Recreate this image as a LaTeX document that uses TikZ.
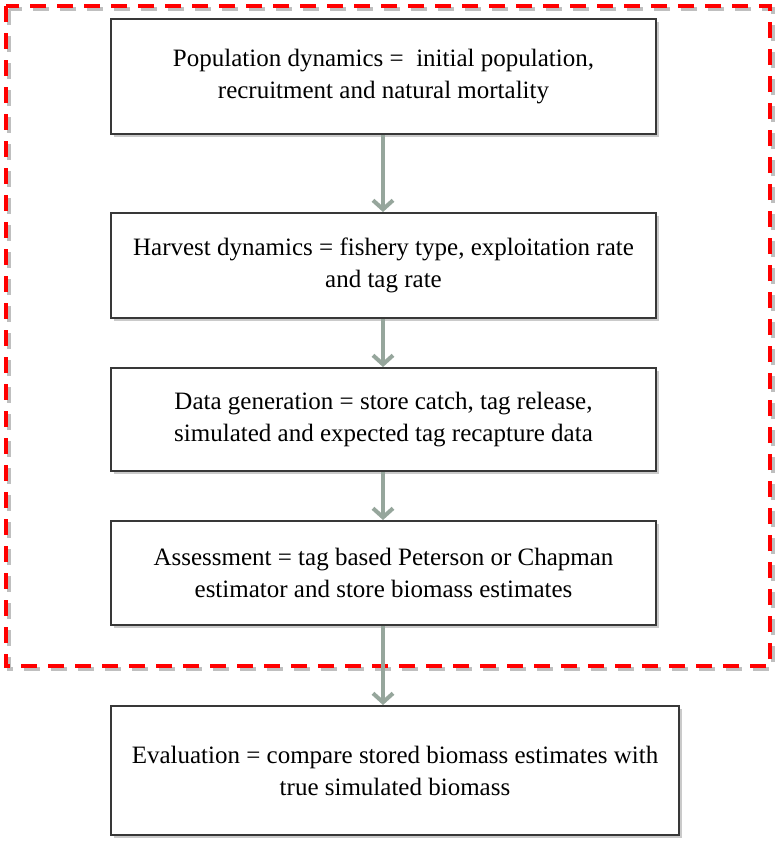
\documentclass[tikz,border=0pt]{standalone}
\usepackage{fontspec}
\setmainfont{Liberation Serif}
\usetikzlibrary{arrows.meta,shadows}
\begin{document}
\begin{tikzpicture}[x=1pt,y=-1pt,
  stepbox/.style={draw=black!78,line width=2pt,fill=white,
    drop shadow={shadow xshift=3pt,shadow yshift=-3pt,opacity=0.35,fill=black!60},
    align=center,font=\fontsize{25}{32}\selectfont,inner sep=0pt},
  flow/.style={draw={rgb,255:red,150;green,166;blue,156},line width=4pt,
    -{Straight Barb[length=9pt,width=20pt,line width=4pt]}},
  frame/.style={draw={rgb,255:red,255;green,0;blue,0},line width=4pt,
    dash pattern=on 16pt off 11pt}]
\useasboundingbox (0,0) rectangle (782,847);
\draw[frame,draw=black!25] (9,9) rectangle (773,669);
\draw[frame] (6,6) rectangle (770,666);
\node[stepbox,minimum width=545pt,minimum height=115pt] (p) at (383.5,76.5)
  {Population dynamics =\ \ initial population,\\recruitment and natural mortality};
\node[stepbox,minimum width=545pt,minimum height=105pt] (h) at (383.5,265.5)
  {Harvest dynamics = fishery type, exploitation rate\\and tag rate};
\node[stepbox,minimum width=545pt,minimum height=103pt] (d) at (383.5,419.5)
  {Data generation = store catch, tag release,\\simulated and expected tag recapture data};
\node[stepbox,minimum width=545pt,minimum height=104pt] (a) at (383.5,573)
  {Assessment = tag based Peterson or Chapman\\estimator and store biomass estimates};
\node[stepbox,minimum width=568pt,minimum height=129pt] (e) at (395,770.5)
  {Evaluation = compare stored biomass estimates with\\true simulated biomass};
\draw[flow] (p.south -| 383,0) -- (h.north -| 383,0);
\draw[flow] (h.south -| 383,0) -- (d.north -| 383,0);
\draw[flow] (d.south -| 383,0) -- (a.north -| 383,0);
\draw[flow] (a.south -| 383,0) -- (e.north -| 383,0);
\end{tikzpicture}
\end{document}
